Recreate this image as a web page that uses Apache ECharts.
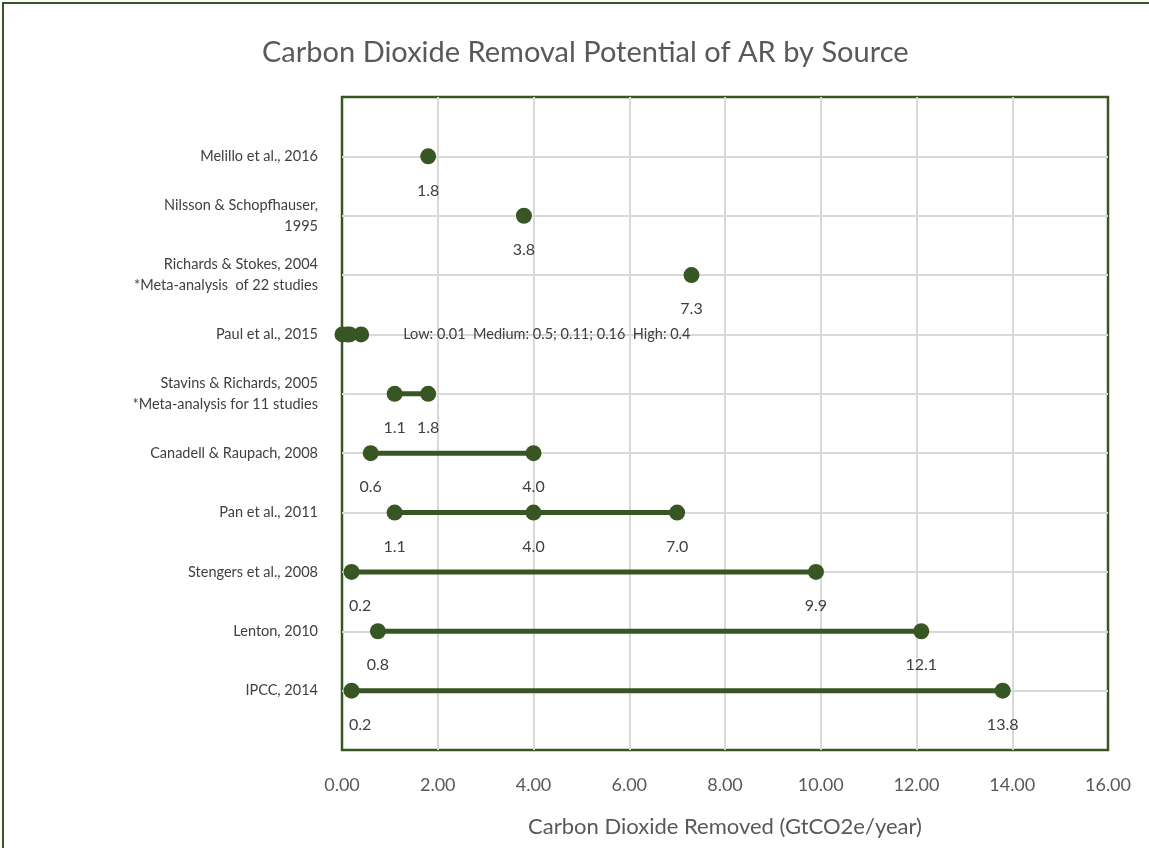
<!DOCTYPE html>
<html>
<head>
<meta charset="utf-8">
<script src="https://cdn.jsdelivr.net/npm/echarts@6/dist/echarts.min.js"></script>
<style>
html,body{margin:0;padding:0;background:#fff;}
#chart{width:1149px;height:848px;}
</style>
</head>
<body>
<div id="chart"></div>
<script>
// Sources, bottom to top (y = 1 .. 10)
const sources = [
  'IPCC, 2014',
  'Lenton, 2010',
  'Stengers et al., 2008',
  'Pan et al., 2011',
  'Canadell & Raupach, 2008',
  'Stavins & Richards, 2005\n*Meta-analysis for 11 studies',
  'Paul et al., 2015',
  'Richards & Stokes, 2004\n*Meta-analysis  of 22 studies',
  'Nilsson & Schopfhauser,\n1995',
  'Melillo et al., 2016'
];
// CDR estimates (GtCO2e/year) per source, same order
const ipcc      = [0.2, 13.8];
const lenton    = [0.75, 12.1];
const stengers  = [0.2, 9.9];
const pan       = [1.1, 4.0, 7.0];
const canadell  = [0.6, 4.0];
const stavins   = [1.1, 1.8];
const paul      = [0.01, 0.11, 0.16, 0.4];
const richards  = [7.3];
const nilsson   = [3.8];
const melillo   = [1.8];
const rows = [ipcc, lenton, stengers, pan, canadell, stavins, paul, richards, nilsson, melillo];
const paulNote = 'Low: 0.01  Medium: 0.5; 0.11; 0.16  High: 0.4';
const xTicks = [0, 2, 4, 6, 8, 10, 12, 14, 16];

const GREEN = '#375623';
const FONT = 'Lato, "Noto Sans", sans-serif';
const GRID_LEFT = 342;

const series = rows.map((vals, i) => {
  const y = i + 1;
  const isPaul = vals === paul;
  return {
    type: 'line',
    data: vals.map((v, j) => {
      const item = { value: [v, y] };
      if (isPaul) {
        if (j === vals.length - 1) {
          item.label = { show: true, position: 'right', distance: 34, fontSize: 14.5, formatter: paulNote };
        } else {
          item.label = { show: false };
        }
      }
      return item;
    }),
    symbol: 'circle',
    symbolSize: 16,
    showAllSymbol: true,
    lineStyle: { color: GREEN, width: 5 },
    itemStyle: { color: GREEN },
    label: {
      show: true,
      position: 'bottom',
      distance: 18,
      color: '#404040',
      fontFamily: FONT,
      fontSize: 16,
      formatter: p => p.value[0].toFixed(1)
    },
    // keep data labels inside the plot area (as the original does)
    labelLayout: function (params) {
      const r = params.labelRect;
      if (r && r.x < GRID_LEFT + 7) {
        return { dx: GRID_LEFT + 7 - r.x };
      }
      return {};
    },
    emphasis: { disabled: true },
    animation: false,
    z: 3
  };
});

const chart = echarts.init(document.getElementById('chart'), null, { renderer: 'canvas' });
chart.setOption({
  backgroundColor: '#fff',
  animation: false,
  title: {
    text: 'Carbon Dioxide Removal Potential of AR by Source',
    left: 257,
    top: 33,
    textStyle: { color: '#595959', fontFamily: FONT, fontSize: 29, fontWeight: 'normal' }
  },
  graphic: [{
    type: 'rect',
    shape: { x: 3, y: 3, width: 1300, height: 1000 },
    style: { fill: 'none', stroke: GREEN, lineWidth: 2 },
    silent: true,
    z: 10
  }],
  grid: {
    left: GRID_LEFT, right: 41, top: 97, bottom: 98,
    show: true, borderColor: GREEN, borderWidth: 2.5, backgroundColor: 'transparent'
  },
  xAxis: {
    type: 'value',
    min: xTicks[0], max: xTicks[xTicks.length - 1], interval: 2,
    name: 'Carbon Dioxide Removed (GtCO2e/year)',
    nameLocation: 'middle',
    nameGap: 66,
    nameTextStyle: { color: '#595959', fontFamily: FONT, fontSize: 22 },
    axisLine: { show: false },
    axisTick: { show: false },
    axisLabel: { color: '#595959', fontFamily: FONT, fontSize: 18, margin: 26, formatter: v => v.toFixed(2) },
    splitLine: { show: true, showMinLine: false, showMaxLine: false, lineStyle: { color: '#d9d9d9', width: 2 } }
  },
  yAxis: {
    type: 'value',
    min: 0, max: 11, interval: 1,
    axisLine: { show: false },
    axisTick: { show: false },
    axisLabel: {
      color: '#404040', fontFamily: FONT, fontSize: 14.5, lineHeight: 21, margin: 24, align: 'right',
      formatter: v => (v >= 1 && v <= sources.length) ? sources[v - 1] : ''
    },
    splitLine: { show: true, showMinLine: false, showMaxLine: false, lineStyle: { color: '#d9d9d9', width: 2 } }
  },
  series: series
});
</script>
</body>
</html>
